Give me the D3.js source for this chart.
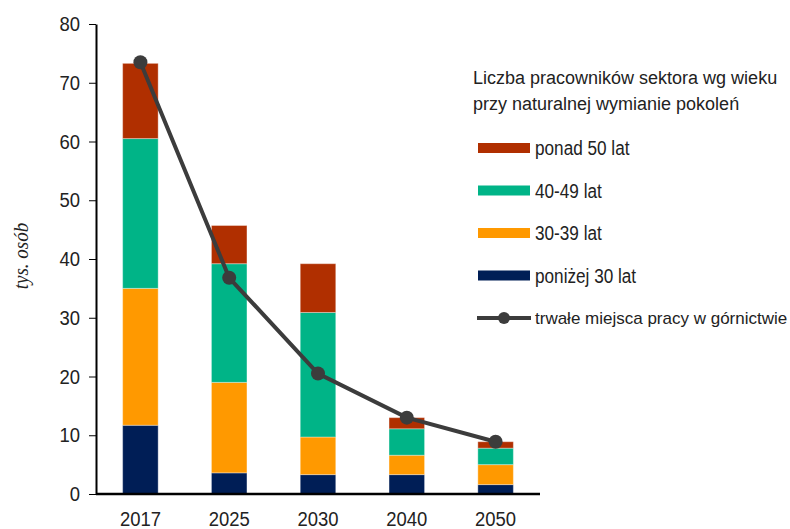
<!DOCTYPE html>
<html>
<head>
<meta charset="utf-8">
<script src="https://cdn.jsdelivr.net/npm/d3@7"></script>
<style>
  body { margin: 0; background: #fff; }
  svg { display: block; font-family: "Liberation Sans", Arial, sans-serif; }
  .os path, .os line { stroke: #000; }
</style>
</head>
<body>
<div id="wykres"></div>
<script>
// dane (tys. osób)
var lata = ["2017", "2025", "2030", "2040", "2050"];
var ponizej30 = [11.7, 3.6, 3.3, 3.3, 1.6];
var od30do39 = [23.3, 15.4, 6.4, 3.3, 3.4];
var od40do49 = [25.5, 20.2, 21.2, 4.5, 2.8];
var ponad50 = [12.8, 6.5, 8.3, 1.9, 1.1];
var miejscaPracy = [73.5, 36.8, 20.5, 13.0, 8.9];
var ticksY = [0, 10, 20, 30, 40, 50, 60, 70, 80];

var serie = [
  { klucz: "ponizej30", nazwa: "poniżej 30 lat", kolor: "#001e56", wartosci: ponizej30 },
  { klucz: "od30do39", nazwa: "30-39 lat", kolor: "#ff9900", wartosci: od30do39 },
  { klucz: "od40do49", nazwa: "40-49 lat", kolor: "#00b487", wartosci: od40do49 },
  { klucz: "ponad50", nazwa: "ponad 50 lat", kolor: "#b02f00", wartosci: ponad50 }
];

var W = 790, H = 529;
var lewo = 96, prawo = 540, gora = 24, dol = 494;
var ZWEZENIE = 0.9; // czcionka w oryginale jest waska, sciskamy ja w poziomie

var svg = d3.select("#wykres").append("svg").attr("width", W).attr("height", H);

function scisnij(sel, f) {
  sel.each(function () {
    var w = this.getComputedTextLength();
    d3.select(this).attr("textLength", w * f).attr("lengthAdjust", "spacingAndGlyphs");
  });
}

var x = d3.scaleBand().domain(lata).range([lewo, prawo]).paddingInner(0.6).paddingOuter(0.3);
var y = d3.scaleLinear().domain([0, 80]).range([dol, gora]);

// tabela do stosu
var tabela = lata.map(function (r, i) {
  var o = { rok: r };
  serie.forEach(function (s) { o[s.klucz] = s.wartosci[i]; });
  return o;
});
var stos = d3.stack().keys(serie.map(function (s) { return s.klucz; }))(tabela);

svg.append("g").selectAll("g")
  .data(stos)
  .enter().append("g")
  .attr("fill", function (d, i) { return serie[i].kolor; })
  .selectAll("rect")
  .data(function (d) { return d; })
  .enter().append("rect")
  .attr("x", function (d) { return x(d.data.rok); })
  .attr("width", x.bandwidth())
  .attr("y", function (d) { return y(d[1]); })
  .attr("height", function (d) { return y(d[0]) - y(d[1]); })
  .attr("stroke", "#fff")
  .attr("stroke-opacity", 0.35)
  .attr("stroke-width", 1);

// osie
var osY = svg.append("g").attr("class", "os")
  .attr("transform", "translate(" + lewo + ",0)")
  .call(d3.axisLeft(y).tickValues(ticksY).tickSize(7).tickSizeOuter(0).tickPadding(9));
osY.select(".domain").attr("stroke-width", 2);
osY.selectAll("text").attr("font-size", 20.5).attr("fill", "#222").attr("font-family", "inherit")
  .call(scisnij, ZWEZENIE);

var osX = svg.append("g").attr("class", "os")
  .attr("transform", "translate(0," + dol + ")")
  .call(d3.axisBottom(x).tickSize(0).tickPadding(17));
osX.select(".domain").attr("stroke-width", 2.5).attr("d", "M" + lewo + ",0H" + prawo);
osX.selectAll("text").attr("font-size", 20.5).attr("fill", "#222").attr("font-family", "inherit")
  .call(scisnij, ZWEZENIE);

svg.append("text")
  .attr("transform", "translate(28,256) rotate(-90)")
  .attr("text-anchor", "middle")
  .attr("font-family", "Liberation Serif, serif")
  .attr("font-style", "italic")
  .attr("font-size", 20)
  .attr("fill", "#222")
  .text("tys. osób")
  .call(scisnij, 0.95);

// linia: trwale miejsca pracy
var linia = d3.line()
  .x(function (d, i) { return x(lata[i]) + x.bandwidth() / 2; })
  .y(function (d) { return y(d); });

svg.append("path")
  .datum(miejscaPracy)
  .attr("d", linia)
  .attr("fill", "none")
  .attr("stroke", "#3c3c3c")
  .attr("stroke-width", 4);

svg.append("g").selectAll("circle")
  .data(miejscaPracy)
  .enter().append("circle")
  .attr("cx", function (d, i) { return x(lata[i]) + x.bandwidth() / 2; })
  .attr("cy", function (d) { return y(d); })
  .attr("r", 7)
  .attr("fill", "#3c3c3c");

// legenda
var leg = svg.append("g").attr("fill", "#222");
leg.append("text").attr("x", 473).attr("y", 84).attr("font-size", 18)
  .text("Liczba pracowników sektora wg wieku");
leg.append("text").attr("x", 473).attr("y", 110).attr("font-size", 18)
  .text("przy naturalnej wymianie pokoleń");

var wpisy = serie.slice().reverse();
var wierszY = [148, 190.5, 233, 275.5];
wpisy.forEach(function (s, i) {
  leg.append("rect").attr("x", 478).attr("y", wierszY[i] - 5).attr("width", 52).attr("height", 10).attr("fill", s.kolor);
  leg.append("text").attr("x", 535).attr("y", wierszY[i] + 7).attr("font-size", 19.5).text(s.nazwa)
    .call(scisnij, 0.88);
});
leg.append("line").attr("x1", 477).attr("x2", 531).attr("y1", 318).attr("y2", 318)
  .attr("stroke", "#3c3c3c").attr("stroke-width", 4);
leg.append("circle").attr("cx", 504).attr("cy", 318).attr("r", 6).attr("fill", "#3c3c3c");
leg.append("text").attr("x", 535).attr("y", 324).attr("font-size", 17)
  .text("trwałe miejsca pracy w górnictwie");
</script>
</body>
</html>
